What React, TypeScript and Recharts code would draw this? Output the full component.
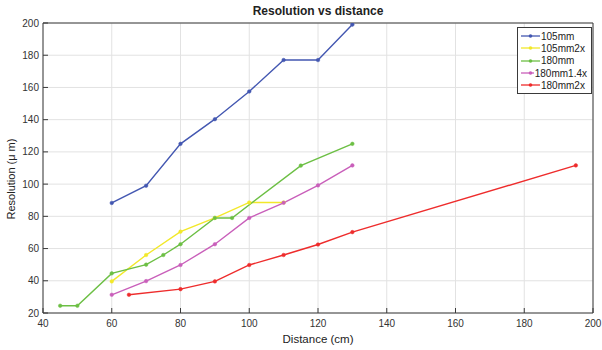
import React from 'react';
import { LineChart, Line, XAxis, YAxis, CartesianGrid, Legend } from 'recharts';

const seriesNames = ['105mm', '105mm2x', '180mm', '180mm1.4x', '180mm2x'];
const colors = ['#4357B1', '#F2E82A', '#6CBF44', '#C95FBA', '#EE2C2C'];

const dist105 = [60, 70, 80, 90, 100, 110, 120, 130];
const res105 = [88.3, 99, 125, 140.3, 157.5, 177, 177, 199];
const dist105x2 = [60, 70, 80, 90, 100, 110];
const res105x2 = [39.6, 56, 70.5, 79, 88.6, 88.6];
const dist180 = [45, 50, 60, 70, 75, 80, 90, 95, 115, 130];
const res180 = [24.5, 24.5, 44.6, 50, 56, 62.7, 79, 79, 111.5, 125];
const dist180x14 = [60, 70, 80, 90, 100, 110, 120, 130];
const res180x14 = [31.3, 39.8, 49.8, 62.7, 79, 88.4, 99.2, 111.6];
const dist180x2 = [65, 80, 90, 100, 110, 120, 130, 195];
const res180x2 = [31.3, 34.8, 39.6, 49.8, 56, 62.5, 70.2, 111.6];

const xTicks = [40, 60, 80, 100, 120, 140, 160, 180, 200];
const yTicks = [20, 40, 60, 80, 100, 120, 140, 160, 180, 200];

const zip = (xs: number[], ys: number[]) => xs.map((x, i) => ({ x, y: ys[i] }));
const series = [
  zip(dist105, res105),
  zip(dist105x2, res105x2),
  zip(dist180, res180),
  zip(dist180x14, res180x14),
  zip(dist180x2, res180x2),
];

const FONT = '"Liberation Sans", Arial, Helvetica, sans-serif';
const AXIS = '#3a3a3a';

const renderLegend = () => (
  <div
    style={{
      border: `1px solid ${AXIS}`,
      background: '#fff',
      padding: '2px 4px 2px 3px',
      fontFamily: FONT,
      fontSize: 10,
      color: '#222',
      width: 66,
    }}
  >
    {seriesNames.map((n, i) => (
      <div key={n} style={{ display: 'flex', alignItems: 'center', height: 12.3 }}>
        <svg width={19} height={8} style={{ marginRight: 1 }}>
          <line x1={0} y1={4} x2={19} y2={4} stroke={colors[i]} strokeWidth={1.3} />
          <circle cx={9.5} cy={4} r={1.8} fill={colors[i]} />
        </svg>
        <span>{n}</span>
      </div>
    ))}
  </div>
);

export default function App() {
  const left = 42;
  const top = 22;
  const right = 8;
  const bottom = 36;
  return (
    <div style={{ position: 'absolute', left: 0, top: 0, width: 602, height: 350, background: '#fff' }}>
      <LineChart
        width={602}
        height={350}
        margin={{ top, right, bottom, left }}
        style={{ fontFamily: FONT }}
      >
        <CartesianGrid
          xAxisId="b"
          yAxisId="l"
          stroke="#e2e2e2"
          strokeWidth={1}
          horizontalValues={yTicks}
          verticalValues={xTicks}
        />
        <XAxis
          xAxisId="b"
          type="number"
          dataKey="x"
          domain={[40, 200]}
          ticks={xTicks}
          height={1}
          tickSize={-5}
          tickMargin={12}
          stroke={AXIS}
          tick={{ fill: '#333', fontSize: 10 }}
          allowDataOverflow
        />
        <XAxis
          xAxisId="t"
          orientation="top"
          type="number"
          dataKey="x"
          domain={[40, 200]}
          ticks={xTicks}
          height={1}
          tickSize={-5}
          stroke={AXIS}
          tickFormatter={() => ''}
        />
        <YAxis
          yAxisId="l"
          type="number"
          domain={[20, 200]}
          ticks={yTicks}
          width={1}
          tickSize={-5}
          tickMargin={9}
          stroke={AXIS}
          tick={{ fill: '#333', fontSize: 10 }}
          allowDataOverflow
        />
        <YAxis
          yAxisId="r"
          orientation="right"
          type="number"
          domain={[20, 200]}
          ticks={yTicks}
          width={1}
          tickSize={-5}
          stroke={AXIS}
          tickFormatter={() => ''}
        />
        {series.map((d, i) => (
          <Line
            key={seriesNames[i]}
            xAxisId="b"
            yAxisId="l"
            data={d}
            dataKey="y"
            name={seriesNames[i]}
            stroke={colors[i]}
            strokeWidth={1.4}
            dot={{ r: 1.8, fill: colors[i], stroke: colors[i], strokeWidth: 0.5 }}
            isAnimationActive={false}
          />
        ))}
        <Legend
          layout="vertical"
          align="center"
          verticalAlign="middle"
          content={renderLegend}
          wrapperStyle={{ left: 517, top: 27, width: 74, height: 66 }}
        />
      </LineChart>
      <div
        style={{
          position: 'absolute',
          left: 43,
          width: 550,
          top: 4,
          textAlign: 'center',
          fontFamily: FONT,
          fontWeight: 'bold',
          fontSize: 12,
          color: '#222',
        }}
      >
        Resolution vs distance
      </div>
      <div
        style={{
          position: 'absolute',
          left: 43,
          width: 550,
          top: 333,
          textAlign: 'center',
          fontFamily: FONT,
          fontSize: 11.5,
          color: '#222',
        }}
      >
        Distance (cm)
      </div>
      <div
        style={{
          position: 'absolute',
          left: 11 - 60,
          top: 179 - 7,
          width: 120,
          height: 14,
          textAlign: 'center',
          transform: 'rotate(-90deg)',
          fontFamily: FONT,
          fontSize: 11,
          color: '#222',
          lineHeight: '14px',
        }}
      >
        Resolution (μ m)
      </div>
    </div>
  );
}
